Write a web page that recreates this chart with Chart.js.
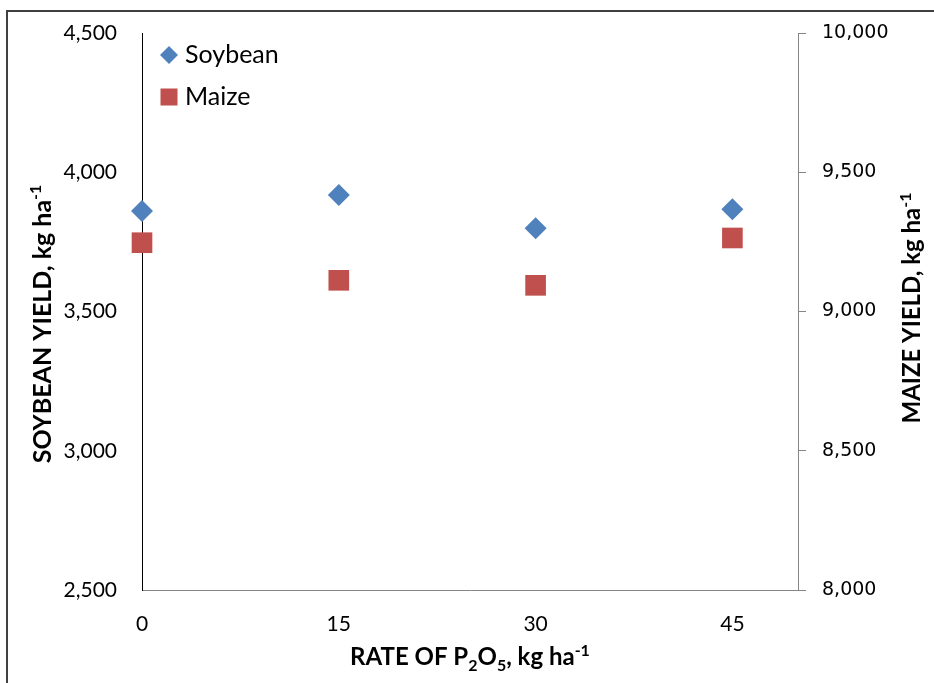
<!DOCTYPE html>
<html>
<head>
<meta charset="utf-8">
<script src="https://cdn.jsdelivr.net/npm/chart.js@4.4.1/dist/chart.umd.min.js"></script>
<style>
  html, body { margin: 0; padding: 0; background: #fff; }
  #wrap { width: 934px; height: 683px; }
</style>
</head>
<body>
<div id="wrap"><canvas id="yieldChart" width="934" height="683"></canvas></div>
<script>
// P2O5 rates and yields
const rates = [0, 15, 30, 45];
const soybeanYield = [3861, 3918, 3799, 3867];
const maizeYield = [9247, 9112, 9094, 9264];
const xTicks = [0, 15, 30, 45];
const soyTicks = [2500, 3000, 3500, 4000, 4500];
const maizeTicks = [8000, 8500, 9000, 9500, 10000];

const FONT = 'Lato, "Open Sans", sans-serif';
const SOY_COLOR = '#4F81BD';
const MAIZE_COLOR = '#C0504D';

// text runs: 0 = normal, -1 = subscript, 1 = superscript
function drawRichText(ctx, runs, cx, cy, size) {
  const small = Math.round(size * 0.65);
  let total = 0;
  runs.forEach(r => {
    ctx.font = `bold ${r[1] ? small : size}px ${FONT}`;
    total += ctx.measureText(r[0]).width;
  });
  let x = cx - total / 2;
  ctx.textBaseline = 'alphabetic';
  ctx.textAlign = 'left';
  runs.forEach(r => {
    ctx.font = `bold ${r[1] ? small : size}px ${FONT}`;
    let dy = 0;
    if (r[1] === -1) dy = size * 0.22;
    if (r[1] === 1) dy = -size * 0.38;
    ctx.fillText(r[0], x, cy + size * 0.35 + dy);
    x += ctx.measureText(r[0]).width;
  });
}

const decorPlugin = {
  id: 'decor',
  beforeDraw(chart) {
    const ctx = chart.ctx;
    ctx.save();
    ctx.strokeStyle = '#404040';
    ctx.lineWidth = 2;
    ctx.beginPath();
    ctx.moveTo(7, 700);
    ctx.lineTo(7, 11);
    ctx.lineTo(950, 11);
    ctx.stroke();
    ctx.restore();
  },
  afterDraw(chart) {
    const ctx = chart.ctx;
    ctx.save();
    ctx.fillStyle = '#000';
    // x title
    drawRichText(ctx, [['RATE OF P', 0], ['2', -1], ['O', 0], ['5', -1], [', kg ha', 0], ['-1', 1]], 470, 657, 24);
    // left title
    ctx.save();
    ctx.translate(42, 324);
    ctx.rotate(-Math.PI / 2);
    drawRichText(ctx, [['SOYBEAN YIELD, kg ha', 0], ['-1', 1]], 0, 0, 25);
    ctx.restore();
    // right title
    ctx.save();
    ctx.translate(912, 308);
    ctx.rotate(-Math.PI / 2);
    drawRichText(ctx, [['MAIZE YIELD, kg ha', 0], ['-1', 1]], 0, 0, 24);
    ctx.restore();

    // legend
    const items = chart.data.datasets;
    const rows = [55, 97];
    items.forEach((ds, i) => {
      const y = rows[i];
      ctx.fillStyle = ds.backgroundColor;
      ctx.beginPath();
      if (ds.pointStyle === 'rectRot') {
        ctx.moveTo(169 - 9, y);
        ctx.lineTo(169, y - 9);
        ctx.lineTo(169 + 9, y);
        ctx.lineTo(169, y + 9);
        ctx.closePath();
        ctx.fill();
      } else {
        ctx.fillRect(169 - 8.5, y - 8.5, 17, 17);
      }
      ctx.fillStyle = '#000';
      ctx.font = `25px ${FONT}`;
      ctx.textAlign = 'left';
      ctx.textBaseline = 'middle';
      ctx.fillText(ds.label, 185, y);
    });
    ctx.restore();
  }
};

// label padding would otherwise push the plot area down
function fitY(width) {
  return scale => {
    scale.width = width;
    scale.paddingTop = 0;
    scale.paddingBottom = 0;
  };
}

new Chart(document.getElementById('yieldChart'), {
  type: 'scatter',
  data: {
    datasets: [{
      label: 'Soybean',
      data: rates.map((r, i) => ({ x: r, y: soybeanYield[i] })),
      yAxisID: 'y',
      pointStyle: 'rectRot',
      pointRadius: 11,
      pointHoverRadius: 11,
      backgroundColor: SOY_COLOR,
      borderColor: SOY_COLOR,
      borderWidth: 0,
      clip: false
    }, {
      label: 'Maize',
      data: rates.map((r, i) => ({ x: r, y: maizeYield[i] })),
      yAxisID: 'y2',
      pointStyle: 'rect',
      pointRadius: 14.6,
      pointHoverRadius: 14.6,
      backgroundColor: MAIZE_COLOR,
      borderColor: MAIZE_COLOR,
      borderWidth: 0,
      clip: false
    }]
  },
  options: {
    responsive: false,
    animation: false,
    layout: { autoPadding: false, padding: { top: 33, left: 0, right: 0, bottom: 0 } },
    plugins: {
      legend: { display: false },
      tooltip: { enabled: false }
    },
    scales: {
      x: {
        type: 'linear',
        min: 0,
        max: 50,
        afterBuildTicks: scale => { scale.ticks = xTicks.map(v => ({ value: v })); },
        afterFit: scale => { scale.height = 93; },
        border: { display: true, color: '#868686', width: 1 },
        grid: { display: false, drawTicks: false },
        ticks: {
          padding: 22,
          color: '#000',
          font: { family: FONT, size: 21 },
          maxRotation: 0
        }
      },
      y: {
        position: 'left',
        min: 2500,
        max: 4500,
        afterBuildTicks: scale => { scale.ticks = soyTicks.map(v => ({ value: v })); },
        afterFit: fitY(142),
        border: { display: true, color: '#000', width: 1 },
        grid: { display: false, drawTicks: false },
        ticks: {
          padding: 25,
          color: '#000',
          font: { family: FONT, size: 21 },
          callback: v => v.toLocaleString('en-US')
        }
      },
      y2: {
        position: 'right',
        min: 8000,
        max: 10000,
        afterBuildTicks: scale => { scale.ticks = maizeTicks.map(v => ({ value: v })); },
        afterFit: fitY(136),
        border: { display: true, color: '#868686', width: 1 },
        grid: { drawOnChartArea: false, drawTicks: true, tickLength: 8, color: '#868686' },
        ticks: {
          padding: 16,
          color: '#000',
          font: { family: '"DejaVu Sans", Verdana, sans-serif', size: 19 },
          callback: v => v.toLocaleString('en-US')
        }
      }
    }
  },
  plugins: [decorPlugin]
});
</script>
</body>
</html>
